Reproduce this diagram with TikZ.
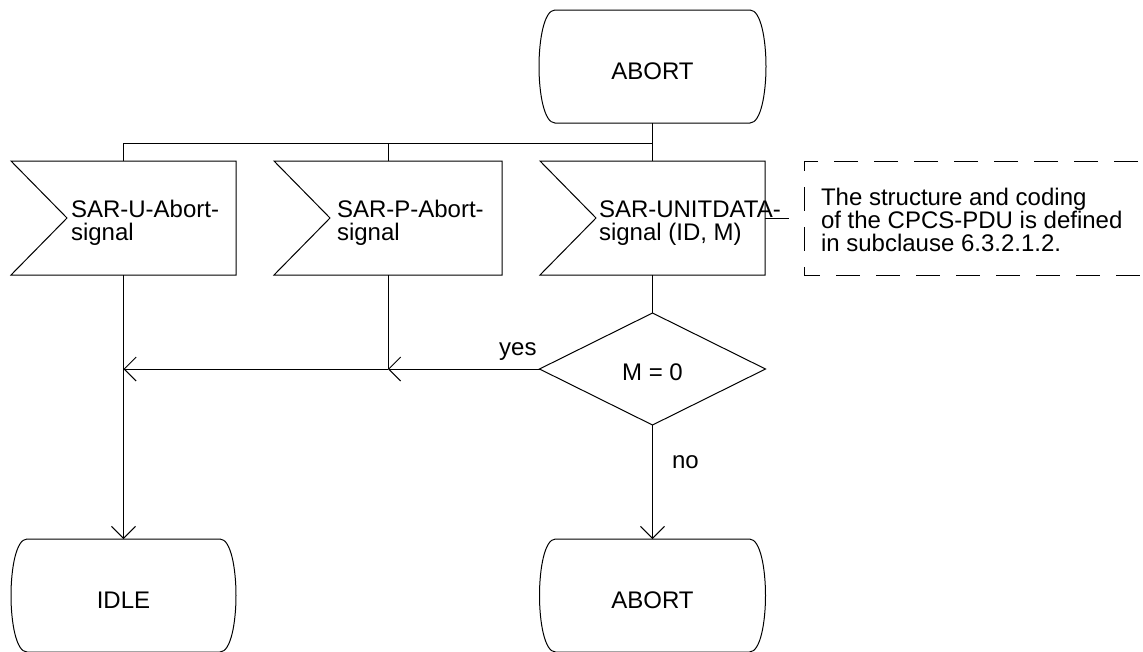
\documentclass[tikz,border=0pt]{standalone}
\usepackage{fontspec}
\setmainfont{Liberation Sans}
\usetikzlibrary{arrows.meta,calc,shapes.geometric}

% SDL state symbol: flat top and bottom, bulging sides
\newcommand\stateoutline[1]{%
  \draw[outline] ([xshift=16pt]#1.north west) -- ([xshift=-16pt]#1.north east)
    .. controls ([xshift=-5pt]#1.north east) and ([yshift=-30pt]#1.north east) .. (#1.east)
    .. controls ([yshift=30pt]#1.south east) and ([xshift=-5pt]#1.south east) .. ([xshift=-16pt]#1.south east)
    -- ([xshift=16pt]#1.south west)
    .. controls ([xshift=5pt]#1.south west) and ([yshift=30pt]#1.south west) .. (#1.west)
    .. controls ([yshift=-30pt]#1.north west) and ([xshift=5pt]#1.north west) .. cycle;}
% SDL input symbol: rectangle with a notch on the left
\newcommand\signaloutline[1]{%
  \draw[outline] (#1.north west) -- (#1.north east) -- (#1.south east)
    -- (#1.south west) -- ([xshift=56pt]#1.west) -- cycle;}

\begin{document}
\begin{tikzpicture}[x=1pt,y=1pt,
  every node/.style={font=\fontsize{24}{23}\selectfont, inner sep=0pt, outer sep=0pt},
  frame/.style={draw=none, rectangle},
  statebox/.style={frame, minimum height=113pt, text height=25pt, text depth=0pt},
  signalbox/.style={frame, minimum height=114pt},
  line/.style={line width=1pt, draw=black},
  outline/.style={line, line join=miter},
  flow/.style={line, -{Straight Barb[length=12pt,width=24pt,line width=1pt]}},
  note/.style={line, dash pattern=on 24pt off 16pt, dash phase=18pt},
  decision/.style={diamond, line, minimum width=226pt, minimum height=112pt,
    text height=23pt, text depth=0pt},
]
\useasboundingbox (0,0) rectangle (1143,-651);
\clip (0,0) rectangle (1143,-651);

% states
\node[statebox, minimum width=227pt] (s0) at (652.5,-66.5) {ABORT};
\node[statebox, minimum width=225pt] (idle) at (123.5,-595.5) {IDLE};
\node[statebox, minimum width=226pt] (ab) at (652.5,-595.5) {ABORT};
\stateoutline{s0}
\stateoutline{idle}
\stateoutline{ab}

% input signals
\node[signalbox, minimum width=225pt] (u) at (123.5,-218) {};
\node[signalbox, minimum width=228pt] (p) at (388,-218) {};
\node[signalbox, minimum width=225pt] (d) at (652.5,-218) {};
\signaloutline{u}
\signaloutline{p}
\signaloutline{d}
\node[anchor=base west] (ut) at ([xshift=60pt,yshift=1pt]u.west)
  {\vtop{\hbox{SAR-U-Abort-}\hbox{signal}}};
\node[anchor=base west] (pt) at ([xshift=63pt,yshift=1pt]p.west)
  {\vtop{\hbox{SAR-P-Abort-}\hbox{signal}}};
\node[anchor=base west] (dt) at ([xshift=59pt,yshift=1pt]d.west)
  {\vtop{\hbox{SAR-UNITDATA-}\hbox{signal (ID, M)}}};

% comment
\node[frame, minimum width=356pt, minimum height=114pt] (c) at (982,-218) {};
\draw[note] (c.north east) -- (c.north west) -- (c.south west) -- (c.south east);
\node[anchor=base west] (ct) at ([xshift=17pt,yshift=13pt]c.west)
  {\vtop{\hbox{The structure and coding}\hbox{of the CPCS-PDU is defined}\hbox{in subclause 6.3.2.1.2.}}};
\coordinate (cl) at ([xshift=-15pt]c.west);
\draw[line] (d.east) -- (cl);

% decision
\node[decision] (m) at (652.5,-369) {M = 0};

% connectors
\coordinate (bus) at (652.5,-143);
\draw[line] (s0.south) -- (d.north);
\draw[line] (u.north) |- (bus);
\draw[line] (p.north) -- (p.north |- bus);
\draw[line] (d.south) -- (m.north);

\coordinate (jp) at (p.south |- m.west);
\coordinate (ju) at (u.south |- m.west);
\draw[line] (p.south) -- (jp);
\draw[flow] (m.west) -- (jp);
\draw[flow] (jp) -- (ju);
\draw[flow] (u.south) -- (idle.north);
\draw[flow] (m.south) -- (ab.north);

\node[anchor=base east] (yes) at ([xshift=-3pt,yshift=14pt]m.west) {yes};
\node[anchor=base west] (no) at ([xshift=19.5pt,yshift=-43pt]m.south) {no};
\end{tikzpicture}
\end{document}
